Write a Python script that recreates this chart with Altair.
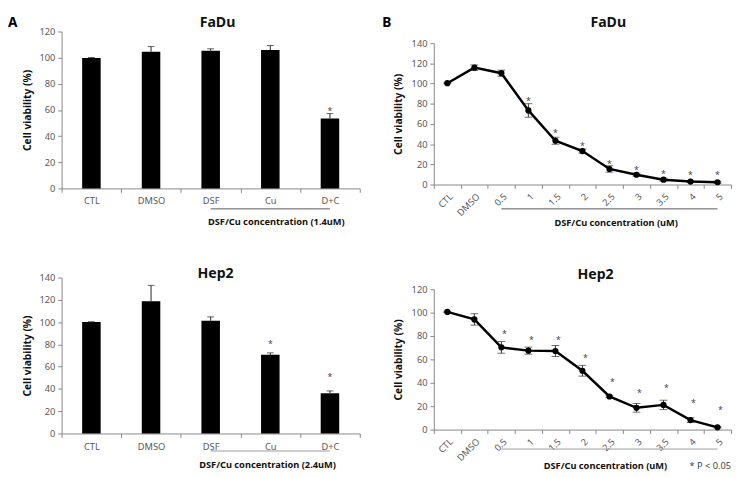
import altair as alt
import pandas as pd

# ---------------- data ----------------
bar_cats = ["CTL", "DMSO", "DSF", "Cu", "D+C"]
fadu_bar_mean = [99.8, 104.5, 105.3, 105.8, 53.4]
fadu_bar_err = [0.4, 4.0, 1.5, 3.5, 3.8]
fadu_bar_star = [None, None, None, None, 61]

hep2_bar_mean = [100.0, 118.7, 101.2, 70.6, 36.1]
hep2_bar_err = [0.3, 14.3, 3.5, 1.8, 2.1]
hep2_bar_star = [None, None, None, 82, 52]

line_cats = ["CTL", "DMSO", "0.5", "1", "1.5", "2", "2.5", "3", "3.5", "4", "5"]
fadu_line_mean = [100.4, 115.8, 110.3, 73.4, 43.4, 33.1, 15.4, 9.7, 4.8, 2.9, 2.2]
fadu_line_err = [0.5, 2.7, 3.0, 6.7, 3.5, 2.0, 3.2, 1.5, 1.5, 1.0, 1.0]
fadu_line_star = [None, None, None, 85, 53, 40, 22, 16, 12, 11, 11]

hep2_line_mean = [100.6, 94.2, 70.3, 67.5, 67.2, 50.3, 28.3, 18.6, 21.1, 8.1, 1.9]
hep2_line_err = [0.5, 4.9, 5.0, 3.0, 4.7, 4.6, 1.0, 3.7, 4.0, 2.0, 0.5]
hep2_line_star = [None, None, 83, 78, 78, 63, 42, 33, 37, 24, 18]

FONT = "Noto Sans"
LBL = "#595959"
AX = "#868686"


def panel(kind, cats, mean, err, star, name, ymax, g):
    w, h, top = g["w"], g["h"], g.get("top", 0)
    df = pd.DataFrame({"cat": cats, "mean": mean, "err": err, "star": star})
    xaxis = alt.Axis(
        title=g["xtitle"], labelAngle=0 if kind == "bar" else -45,
        tickBand="extent", tickSize=4, tickColor=AX, domainColor=AX,
        labelColor=LBL, labelFont=FONT, labelFontSize=9.5, labelPadding=g["lpad"],
        titleFont=FONT, titleFontSize=9.5, titleFontWeight="bold", titleColor="#111",
        titleX=g["xtx"], titleY=g["xty"], titleAlign="right", titleBaseline="alphabetic",
        grid=False)
    X = alt.X("cat:N", sort=cats, axis=xaxis,
              scale=alt.Scale(type="band", paddingInner=0, paddingOuter=0))
    yaxis = alt.Axis(
        title="Cell viability (%)", values=list(range(0, ymax + 1, 20)),
        tickSize=4, tickColor=AX, domainColor=AX, labelColor=LBL, labelFont=FONT,
        labelFontSize=9.5, labelPadding=3, titleFont=FONT, titleFontSize=10.5,
        titleFontWeight="bold", titleColor="#111", titlePadding=g["ytp"], grid=False)

    def Y(f):
        return alt.Y(f + ":Q", axis=yaxis,
                     scale=alt.Scale(domain=[0, ymax], nice=False, range=[h, top]))

    base = alt.Chart(df).transform_calculate(
        lo="datum.mean - datum.err", hi="datum.mean + datum.err")
    layers = []
    if kind == "bar":
        layers.append(base.mark_bar(color="black", size=19).encode(x=X, y=Y("mean")))
        layers.append(base.mark_rule(color="#222", strokeWidth=1).encode(
            x=X, y=Y("mean"), y2="hi:Q"))
        layers.append(base.mark_tick(color="#222", thickness=1, size=7).encode(x=X, y=Y("hi")))
    else:
        layers.append(base.mark_rule(color="#333", strokeWidth=1).encode(
            x=X, y=Y("lo"), y2="hi:Q"))
        layers.append(base.mark_tick(color="#333", thickness=1, size=8).encode(x=X, y=Y("hi")))
        layers.append(base.mark_tick(color="#333", thickness=1, size=8).encode(x=X, y=Y("lo")))
        layers.append(base.mark_line(color="black", strokeWidth=2.5).encode(x=X, y=Y("mean")))
        layers.append(base.mark_point(color="black", filled=True, opacity=1, size=40).encode(
            x=X, y=Y("mean")))
    layers.append(base.transform_filter("isValid(datum.star)").mark_text(
        text="*", font=FONT, fontSize=9, color="#444", baseline="middle",
        dx=g["sdx"], dy=2).encode(x=X, y=Y("star")))
    # underline below the treated groups
    layers.append(alt.Chart(pd.DataFrame({"cat": [g["ul0"], cats[-1]]})).mark_line(
        color=g["ulc"], strokeWidth=1).encode(x=X, y=alt.value(h + g["uly"])))
    # panel title
    layers.append(alt.Chart(pd.DataFrame({"t": [name]})).mark_text(
        font=FONT, fontSize=14.5, fontWeight="bold", color="#111", align="center",
        baseline="alphabetic").encode(x=alt.value(g["tx"]), y=alt.value(g["ty"]), text="t:N"))
    # panel letter
    if g.get("letter"):
        layers.append(alt.Chart(pd.DataFrame({"t": [g["letter"]]})).mark_text(
            font=FONT, fontSize=14, fontWeight="bold", color="black", align="left",
            baseline="alphabetic").encode(
            x=alt.value(g["lx"]), y=alt.value(g["ly"]), text="t:N"))
    if g.get("note"):
        layers.append(alt.Chart(pd.DataFrame({"t": [g["note"]]})).mark_text(
            font=FONT, fontSize=9.5, color="#444", align="right",
            baseline="alphabetic").encode(
            x=alt.value(w), y=alt.value(h + g["xty"]), text="t:N"))
    return alt.layer(*layers).properties(width=w, height=h)


tl = panel("bar", bar_cats, fadu_bar_mean, fadu_bar_err, fadu_bar_star, "FaDu", 120, dict(
    w=306, h=161, xtitle="DSF/Cu concentration (1.4uM)", xtx=290, xty=37, lpad=4, ytp=7,
    sdx=0, ul0="DSF", ulc="#555", uly=21, tx=160, ty=-5, letter="A", lx=-55, ly=-5))
tr = panel("line", line_cats, fadu_line_mean, fadu_line_err, fadu_line_star, "FaDu", 140, dict(
    w=305, h=157, top=12, xtitle="DSF/Cu concentration (uM)", xtx=250, xty=42, lpad=3,
    ytp=8, sdx=0, ul0="0.5", ulc="#555", uly=25, tx=179, ty=-5, letter="B", lx=-53, ly=-5))
bl = panel("bar", bar_cats, hep2_bar_mean, hep2_bar_err, hep2_bar_star, "Hep2", 140, dict(
    w=306, h=160, xtitle="DSF/Cu concentration (2.4uM)", xtx=281, xty=35, lpad=4, ytp=7,
    sdx=0, ul0="DSF", ulc="#999", uly=18, tx=158, ty=0))
br = panel("line", line_cats, hep2_line_mean, hep2_line_err, hep2_line_star, "Hep2", 120, dict(
    w=305, h=156, top=12, xtitle="DSF/Cu concentration (uM)", xtx=239, xty=40, lpad=3,
    ytp=8, sdx=3, ul0="0.5", ulc="#999", uly=20, tx=166, ty=1, note="* P < 0.05"))

col_a = alt.vconcat(tl, bl, spacing=40.5)
col_b = alt.vconcat(tr, br, spacing=40.5)
chart = alt.hconcat(col_a, col_b, spacing=22).properties(
    padding={"left": 0, "top": 1, "right": 0, "bottom": 0}
).configure_view(stroke=None)

chart.save("out.html", embed_options={"renderer": "svg", "actions": False})
